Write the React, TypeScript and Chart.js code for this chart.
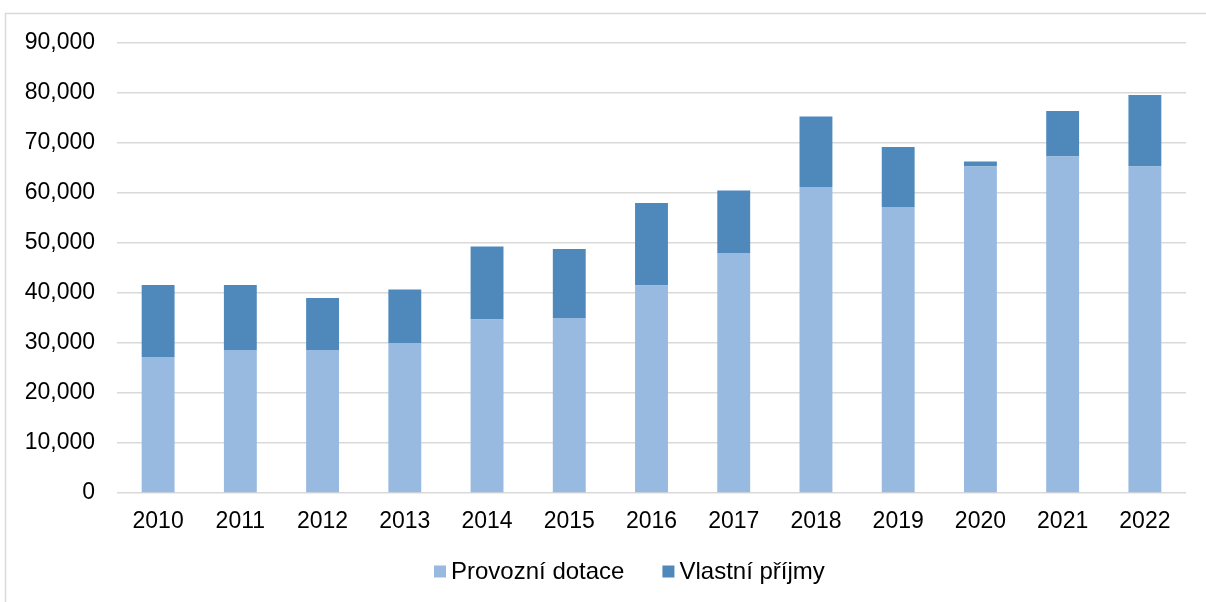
import React, { useEffect, useRef } from "react";
import { Chart, registerables } from "chart.js";

Chart.register(...registerables);

const years = ["2010", "2011", "2012", "2013", "2014", "2015", "2016", "2017", "2018", "2019", "2020", "2021", "2022"];
const provozniDotace = [27200, 28600, 28600, 30000, 34700, 35000, 41500, 48000, 61200, 57200, 65300, 67300, 65300];
const vlastniPrijmy = [14400, 13000, 10400, 10700, 14600, 13800, 16500, 12500, 14100, 12000, 1000, 9100, 14300];
const seriesNames = ["Provozní dotace", "Vlastní příjmy"];
const seriesColors = ["#98b9e0", "#4f89bc"];

const FONT = "'Liberation Sans', Arial, sans-serif";

const framePlugin = {
  id: "frame",
  beforeDraw(chart: any) {
    const ctx = chart.ctx;
    ctx.save();
    ctx.fillStyle = "#ffffff";
    ctx.fillRect(0, 0, chart.width, chart.height);
    ctx.strokeStyle = "#d9d9d9";
    ctx.lineWidth = 1.5;
    ctx.strokeRect(5.5, 13.5, chart.width + 20, chart.height + 20);
    ctx.restore();
  },
};

const legendPlugin = {
  id: "customLegend",
  afterDraw(chart: any) {
    const ctx = chart.ctx;
    ctx.save();
    ctx.font = `24px ${FONT}`;
    ctx.textBaseline = "middle";
    ctx.textAlign = "left";
    let x = 434;
    const yc = 571.5;
    chart.data.datasets.forEach((ds: any) => {
      ctx.fillStyle = ds.backgroundColor;
      ctx.fillRect(x, yc - 6, 12, 12);
      x += 17;
      ctx.fillStyle = "#000000";
      ctx.fillText(ds.label, x, yc + 1);
      x += ctx.measureText(ds.label).width + 38;
    });
    ctx.restore();
  },
};

export default function App() {
  const ref = useRef<HTMLCanvasElement>(null);
  useEffect(() => {
    if (!ref.current) return;
    const chart = new Chart(ref.current, {
      type: "bar",
      data: {
        labels: years,
        datasets: [
          {
            label: seriesNames[0],
            data: provozniDotace,
            backgroundColor: seriesColors[0],
            borderWidth: 0,
            categoryPercentage: 1,
            barPercentage: 0.4,
          },
          {
            label: seriesNames[1],
            data: vlastniPrijmy,
            backgroundColor: seriesColors[1],
            borderWidth: 0,
            categoryPercentage: 1,
            barPercentage: 0.4,
          },
        ],
      },
      options: {
        animation: false,
        responsive: false,
        layout: { padding: { left: 0, top: 43, right: 20, bottom: 0 } },
        plugins: {
          legend: { display: false },
          tooltip: { enabled: false },
        },
        scales: {
          x: {
            stacked: true,
            grid: { display: false, drawTicks: false },
            border: { display: false },
            ticks: { color: "#000000", font: { family: FONT, size: 23 }, padding: 15, maxRotation: 0 },
            afterFit(scale: any) {
              scale.height = 109;
            },
          },
          y: {
            stacked: true,
            min: 0,
            max: 90000,
            grid: { color: "#d9d9d9", lineWidth: 1.5, drawTicks: false },
            border: { display: false },
            ticks: {
              stepSize: 10000,
              color: "#000000",
              font: { family: FONT, size: 23 },
              padding: 22,
              callback: (v: any) => Number(v).toLocaleString("en-US"),
            },
            afterFit(scale: any) {
              scale.width = 117;
            },
          },
        },
      },
      plugins: [framePlugin, legendPlugin],
    });
    return () => chart.destroy();
  }, []);
  return (
    <div style={{ position: "absolute", left: 0, top: 0, width: 1206, height: 602, overflow: "hidden", background: "#fff" }}>
      <canvas ref={ref} width={1206} height={602} style={{ width: 1206, height: 602, display: "block" }} />
    </div>
  );
}
